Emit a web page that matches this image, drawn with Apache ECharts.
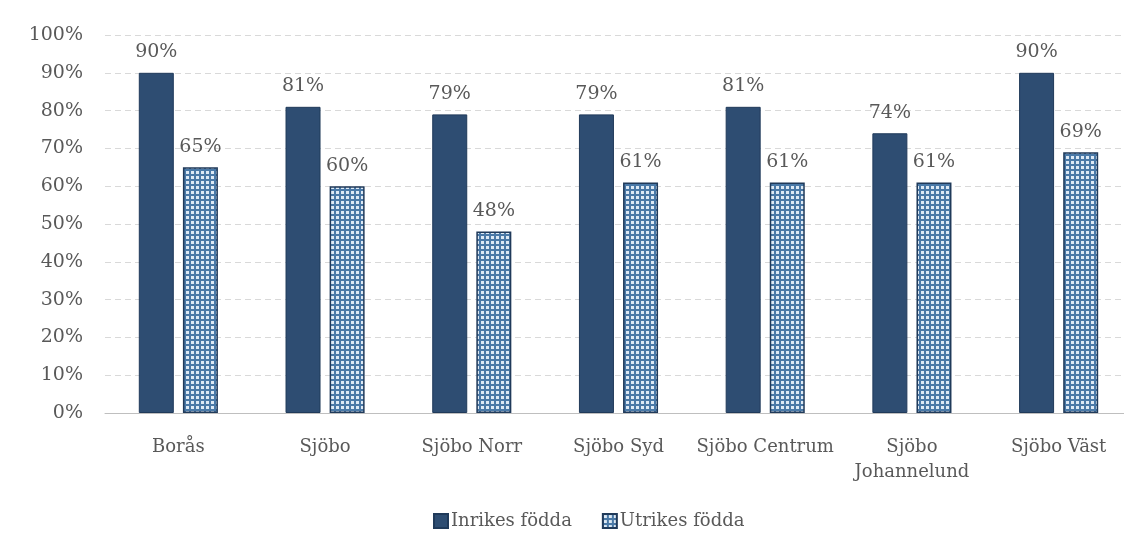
<!DOCTYPE html>
<html>
<head>
<meta charset="utf-8">
<script src="https://cdn.jsdelivr.net/npm/echarts@6/dist/echarts.min.js"></script>
<style>
  html, body { margin: 0; padding: 0; background: #fff; }
  #main { width: 1124px; height: 551px; }
</style>
</head>
<body>
<div id="main"></div>
<script>
var categories = ['Borås', 'Sjöbo', 'Sjöbo Norr', 'Sjöbo Syd', 'Sjöbo Centrum', 'Sjöbo\nJohannelund', 'Sjöbo Väst'];
var inrikes = [90, 81, 79, 79, 81, 74, 90];
var utrikes = [65, 60, 48, 61, 61, 61, 69];
var seriesNames = ['Inrikes födda', 'Utrikes födda'];

// prickigt mönster för utrikes födda
function dotPattern() {
  var c = document.createElement('canvas');
  c.width = 5; c.height = 5;
  var ctx = c.getContext('2d');
  ctx.fillStyle = '#4a79a7';
  ctx.fillRect(0, 0, 5, 5);
  ctx.fillStyle = '#dde9f4';
  ctx.fillRect(1, 1, 3, 3);
  return c;
}

var fontFamily = '"DejaVu Serif", serif';
var textColor = '#595959';

var myChart = echarts.init(document.getElementById('main'));
var option = {
  animation: false,
  textStyle: { fontFamily: fontFamily },
  grid: { left: 105, top: 35, width: 1027, height: 378, outerBoundsMode: 'none', containLabel: false },
  legend: {
    data: seriesNames,
    bottom: 16,
    left: 428,
    icon: 'rect',
    itemWidth: 14,
    itemHeight: 14,
    itemGap: 30,
    textStyle: { fontFamily: fontFamily, fontSize: 18, color: textColor, padding: [0, 0, 0, -2] }
  },
  xAxis: {
    type: 'category',
    data: categories,
    axisLine: { lineStyle: { color: '#bfbfbf', width: 1 } },
    axisTick: { show: false },
    axisLabel: { interval: 0, fontFamily: fontFamily, fontSize: 18, color: textColor, margin: 22, lineHeight: 25 }
  },
  yAxis: {
    type: 'value',
    min: 0,
    max: 100,
    interval: 10,
    axisLine: { show: false },
    axisTick: { show: false },
    axisLabel: { formatter: '{value}%', fontFamily: fontFamily, fontSize: 19, color: textColor, margin: 22 },
    splitLine: { lineStyle: { color: '#d9d9d9', type: [6, 4] } }
  },
  series: [
    {
      name: seriesNames[0],
      type: 'bar',
      data: inrikes,
      barWidth: 35,
      barGap: '26%',
      itemStyle: { color: '#2e4d72', borderColor: '#203a5a', borderWidth: 1 },
      label: { show: true, position: 'top', formatter: '{c}%', fontFamily: fontFamily, fontSize: 19, color: textColor, distance: 11 }
    },
    {
      name: seriesNames[1],
      type: 'bar',
      data: utrikes,
      barWidth: 35,
      itemStyle: { color: { image: dotPattern(), repeat: 'repeat' }, borderColor: '#203a5a', borderWidth: 1.5 },
      label: { show: true, position: 'top', formatter: '{c}%', fontFamily: fontFamily, fontSize: 19, color: textColor, distance: 11 }
    }
  ]
};
myChart.setOption(option);
</script>
</body>
</html>
